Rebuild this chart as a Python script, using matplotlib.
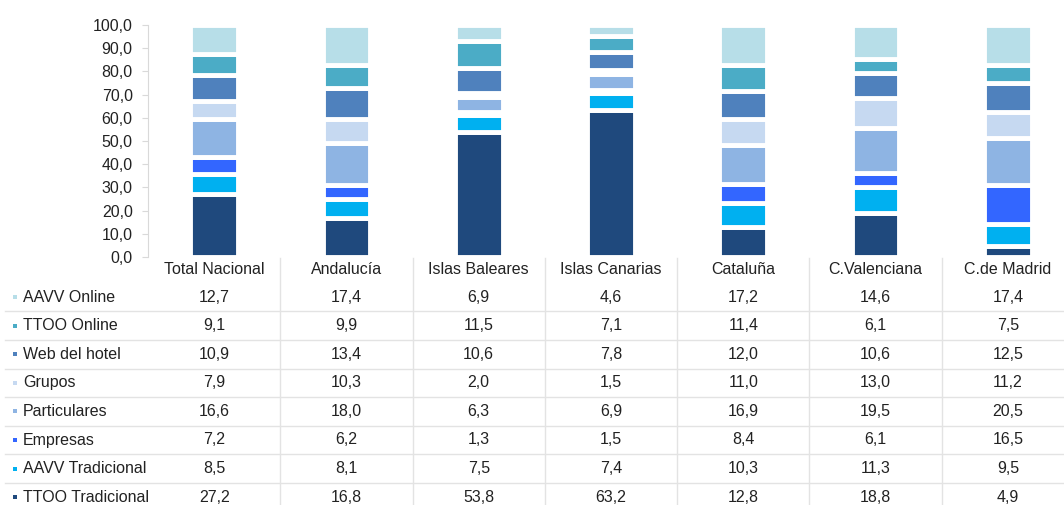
import matplotlib.pyplot as plt
import numpy as np

plt.rcParams['font.family'] = ['Liberation Sans Narrow', 'Liberation Sans', 'DejaVu Sans']

# regiones (columnas) y canales (series apiladas, de abajo hacia arriba)
regiones = ['Total Nacional', 'Andalucía', 'Islas Baleares', 'Islas Canarias',
            'Cataluña', 'C.Valenciana', 'C.de Madrid']
canales = ['TTOO Tradicional', 'AAVV Tradicional', 'Empresas', 'Particulares',
           'Grupos', 'Web del hotel', 'TTOO Online', 'AAVV Online']

ttoo_tradicional = [27.2, 16.8, 53.8, 63.2, 12.8, 18.8, 4.9]
aavv_tradicional = [8.5, 8.1, 7.5, 7.4, 10.3, 11.3, 9.5]
empresas = [7.2, 6.2, 1.3, 1.5, 8.4, 6.1, 16.5]
particulares = [16.6, 18.0, 6.3, 6.9, 16.9, 19.5, 20.5]
grupos = [7.9, 10.3, 2.0, 1.5, 11.0, 13.0, 11.2]
web_hotel = [10.9, 13.4, 10.6, 7.8, 12.0, 10.6, 12.5]
ttoo_online = [9.1, 9.9, 11.5, 7.1, 11.4, 6.1, 7.5]
aavv_online = [12.7, 17.4, 6.9, 4.6, 17.2, 14.6, 17.4]

series = [ttoo_tradicional, aavv_tradicional, empresas, particulares,
          grupos, web_hotel, ttoo_online, aavv_online]
colores = ['#1F497D', '#00B0F0', '#3366FF', '#8EB4E3',
           '#C6D9F1', '#4F81BD', '#4BACC6', '#B7DEE8']

W, H = 1064, 505
fig = plt.figure(figsize=(W / 100, H / 100), dpi=100)

# gráfico de barras apiladas (las columnas continúan un poco fuera del lienzo)
left_px, right_px = 148, 1074
bottom_px, top_px = 257, 25
ax = fig.add_axes([left_px / W, 1 - bottom_px / H,
                   (right_px - left_px) / W, (bottom_px - top_px) / H])
x = np.arange(len(regiones))
base = np.zeros(len(regiones))
for vals, col in zip(series, colores):
    ax.bar(x, vals, bottom=base, width=0.36, color=col,
           edgecolor='white', linewidth=3.5)
    base += np.array(vals)

ax.set_xlim(-0.5, len(regiones) - 0.5)
ax.set_ylim(0, 100)
ax.set_yticks(np.arange(0, 101, 10))
ax.set_yticklabels([f'{v:.1f}'.replace('.', ',') for v in np.arange(0, 101, 10)],
                   fontsize=11.5, color='#222222')
ax.tick_params(axis='y', length=4, color='#D9D9D9', pad=7)
ax.set_xticks([])
for s in ['top', 'right', 'bottom']:
    ax.spines[s].set_visible(False)
ax.spines['left'].set_color('#D9D9D9')

# tabla de datos debajo, en coordenadas de píxel
tab = fig.add_axes([0, 0, 1, 1], zorder=-1)
tab.set_xlim(0, W)
tab.set_ylim(H, 0)
tab.axis('off')

col_w = (right_px - left_px) / len(regiones)
centros = [left_px + (i + 0.5) * col_w for i in range(len(regiones))]

header_y = 270
row_h = 28.6
first_row = 297

for i, reg in enumerate(regiones):
    tab.text(centros[i], header_y, reg, ha='center', va='center',
             fontsize=11.5, color='#222222')
for k in range(1, len(regiones)):
    xb = left_px + k * col_w
    tab.plot([xb, xb], [258, H], color='#E3E3E3', lw=1)

filas = list(range(len(canales)))[::-1]
for r, idx in enumerate(filas):
    yy = first_row + r * row_h
    tab.plot([15], [yy], marker='s', markersize=2.5, color=colores[idx],
             markeredgewidth=0)
    tab.text(23, yy, canales[idx], ha='left', va='center',
             fontsize=11.5, color='#222222')
    for i in range(len(regiones)):
        tab.text(centros[i], yy, f'{series[idx][i]:.1f}'.replace('.', ','),
                 ha='center', va='center', fontsize=11.5, color='#222222')
    if r > 0:
        yl = yy - row_h / 2
        tab.plot([5, W], [yl, yl], color='#E3E3E3', lw=1)

fig.savefig('out.png', dpi=100)
